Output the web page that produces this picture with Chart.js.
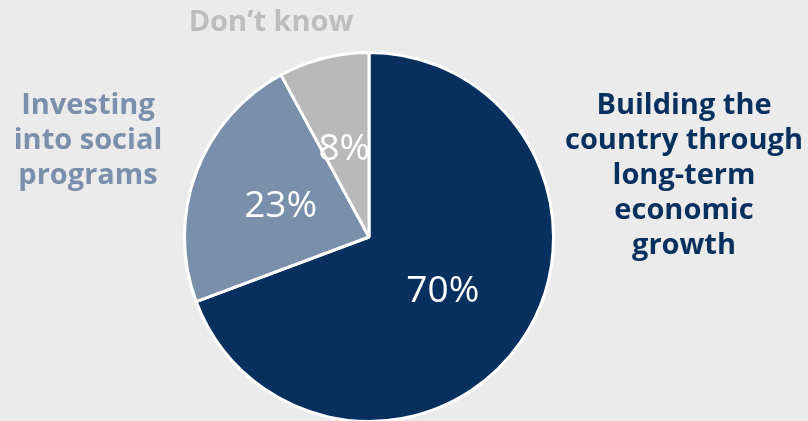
<!DOCTYPE html>
<html>
<head>
<meta charset="utf-8">
<script src="https://cdn.jsdelivr.net/npm/chart.js@4"></script>
<style>
	html, body { margin: 0; padding: 0; background: #ebebeb; overflow: hidden; }
	#wrap { position: relative; width: 808px; height: 440px; }
</style>
</head>
<body>
<div id="wrap"><canvas id="pie"></canvas></div>
<script>
const labels = ['Building the country through long-term economic growth', 'Investing into social programs', 'Don\u2019t know'];
const values = [70, 23, 8];
const colors = ['#08305f', '#7a8fab', '#b9b9b9'];

// outer labels, split by line
const outerLabels = [
	{ lines: ['Building the', 'country through', 'long-term', 'economic', 'growth'], x: 684, y: 106, color: '#08305f' },
	{ lines: ['Investing', 'into social', 'programs'], x: 88, y: 106, color: '#7a8fab' },
	{ lines: ['Don\u2019t know'], x: 271, y: 23, color: '#bdbdbd' },
];

const labelPlugin = {
	id: 'labelPlugin',
	afterDatasetsDraw(chart) {
		const ctx = chart.ctx;
		ctx.save();
		ctx.textAlign = 'center';
		ctx.textBaseline = 'middle';
		// percent labels inside slices
		ctx.font = '37px "Open Sans"';
		ctx.fillStyle = '#ffffff';
		chart.getDatasetMeta(0).data.forEach((arc, i) => {
			const p = arc.tooltipPosition();
			ctx.fillText(values[i] + '%', p.x - 2, p.y + 2);
		});
		// category labels
		ctx.font = 'bold 29px "Open Sans"';
		outerLabels.forEach(l => {
			ctx.fillStyle = l.color;
			l.lines.forEach((t, j) => ctx.fillText(t, l.x, l.y + j * 35));
		});
		ctx.restore();
	}
};

const config_pie = {
	type: 'pie',
	data: {
		labels: labels,
		datasets: [{
			data: values,
			backgroundColor: colors,
			borderColor: '#ffffff',
			borderWidth: 3,
		}]
	},
	options: {
		responsive: false,
		animation: false,
		layout: { padding: { top: 51, bottom: 17, left: 183, right: 253 } },
		plugins: {
			legend: { display: false },
			title: { display: false },
			tooltip: { enabled: false }
		}
	},
	plugins: [labelPlugin]
};

const canvas = document.getElementById('pie');
canvas.width = 808;
canvas.height = 440;
const pie = new Chart(canvas, config_pie);
</script>
</body>
</html>
